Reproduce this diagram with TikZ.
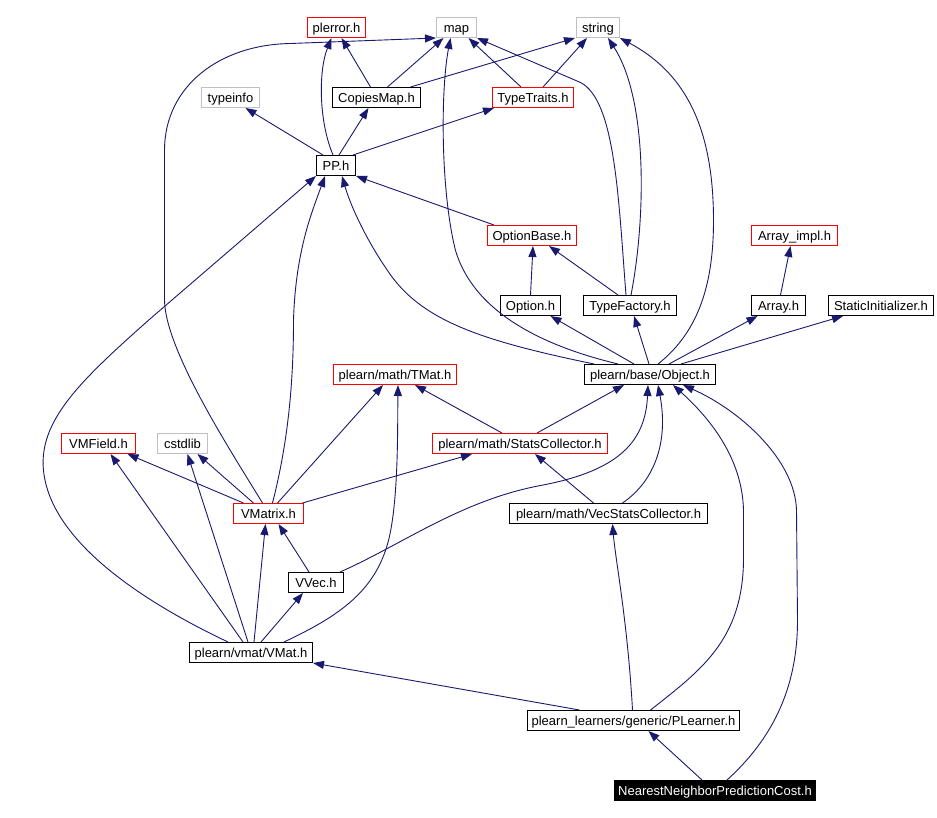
\documentclass[tikz,border=0pt]{standalone}
\usepackage{fontspec}
\setmainfont{Liberation Sans}
\usetikzlibrary{arrows.meta}
\definecolor{EdgeBlue}{RGB}{25,25,112}
\definecolor{FrameRed}{RGB}{255,0,0}
\definecolor{FrameGrey}{RGB}{191,191,191}
\tikzset{
  hbox/.style={draw=black,fill=white,line width=1pt,minimum height=20pt,inner sep=0pt,text height=11pt,text depth=1pt,font=\fontsize{13}{15}\selectfont},
  rbox/.style={hbox,draw=FrameRed},
  gbox/.style={hbox,draw=FrameGrey},
  sbox/.style={hbox,fill=black,text=white},
  dep/.style={-{Triangle[length=11pt,width=8pt]},line width=0.9pt,color=EdgeBlue},
}
\begin{document}
\begin{tikzpicture}[x=1pt,y=-1pt]
      \fill[white] (-0.5,-0.5) rectangle (936.5,816.5);
      \useasboundingbox (-0.5,-0.5) rectangle (936.5,816.5);
      \node[rbox,minimum width=58pt] (plerror) at (336,27) {plerror.h};
      \node[gbox,minimum width=40pt] (map) at (456,27) {map};
      \node[gbox,minimum width=43pt] (string) at (597.5,27) {string};
      \node[gbox,minimum width=58pt] (typeinfo) at (230,97) {typeinfo};
      \node[hbox,minimum width=88pt] (copiesmap) at (376,97) {CopiesMap.h};
      \node[rbox,minimum width=81pt] (typetraits) at (532.5,97) {TypeTraits.h};
      \node[hbox,minimum width=39pt] (pp) at (335.5,165) {PP.h};
      \node[rbox,minimum width=89pt] (optionbase) at (531.5,235) {OptionBase.h};
      \node[rbox,minimum width=86pt] (arrayimpl) at (794,235) {Array\_impl.h};
      \node[hbox,minimum width=60pt] (option) at (530,305) {Option.h};
      \node[hbox,minimum width=93pt] (typefactory) at (629.5,305) {TypeFactory.h};
      \node[hbox,minimum width=54pt] (array) at (778,305) {Array.h};
      \node[hbox,minimum width=105pt] (staticinit) at (880.5,305) {StaticInitializer.h};
      \node[hbox,minimum width=131pt] (object) at (649.5,374) {plearn/base/Object.h};
      \node[rbox,minimum width=123pt] (tmat) at (394.5,374) {plearn/math/TMat.h};
      \node[rbox,minimum width=74pt] (vmfield) at (98,443) {VMField.h};
      \node[gbox,minimum width=50pt] (cstdlib) at (182,443) {cstdlib};
      \node[rbox,minimum width=175pt] (statscoll) at (519.5,443) {plearn/math/StatsCollector.h};
      \node[rbox,minimum width=70pt] (vmatrix) at (268,513) {VMatrix.h};
      \node[hbox,minimum width=198pt] (vecstats) at (608,513) {plearn/math/VecStatsCollector.h};
      \node[hbox,minimum width=55pt] (vvec) at (315.5,582) {VVec.h};
      \node[hbox,minimum width=123pt] (vmat) at (250.5,652) {plearn/vmat/VMat.h};
      \node[hbox,minimum width=212pt] (plearner) at (633,720) {plearn\_learners/generic/PLearner.h};
      \node[sbox,minimum width=201pt] (nn) at (714.5,790) {NearestNeighborPredictionCost.h};
      \draw[dep] ([xshift=-6]copiesmap.north) -- ([xshift=5]plerror.south);
      \draw[dep] ([xshift=11]copiesmap.north) -- ([xshift=-13]map.south);
      \draw[dep] ([xshift=34]copiesmap.north) -- ([xshift=-23]string.south);
      \draw[dep] ([xshift=-12]typetraits.north) -- ([xshift=12]map.south);
      \draw[dep] ([xshift=10]typetraits.north) -- ([xshift=-11]string.south);
      \draw[dep] ([xshift=-13]pp.north) -- ([xshift=15]typeinfo.south);
      \draw[dep] ([xshift=-3]pp.north) .. controls (318,120) and (318,70) .. ([xshift=-5]plerror.south);
      \draw[dep] ([xshift=3]pp.north) -- ([xshift=-8]copiesmap.south);
      \draw[dep] ([xshift=17]pp.north) -- ([xshift=-39]typetraits.south);
      \draw[dep] ([xshift=-38]optionbase.north) -- (pp.south east);
      \draw[dep] ([xshift=-4]typefactory.north) .. controls (618,200) and (615,100) .. (580,82) -- (map.south east);
      \draw[dep] ([xshift=1]typefactory.north) .. controls (645,220) and (648,100) .. ([xshift=10]string.south);
      \draw[dep] ([xshift=8]object.north) .. controls (700,330) and (713,280) .. (713,220) .. controls (713,120) and (680,70) .. (string.south east);
      \draw[dep] ([xshift=-32]object.north) .. controls (520,340) and (470,300) .. (455,250) .. controls (440,190) and (440,90) .. ([xshift=-6]map.south);
      \draw[dep] ([xshift=-56]object.north) .. controls (480,340) and (420,320) .. (387,270) .. controls (365,238) and (350,205) .. ([xshift=6]pp.south);
      \draw[dep] ([xshift=-16]object.north) -- ([xshift=20]option.south);
      \draw[dep] ([xshift=-1]object.north) -- ([xshift=4]typefactory.south);
      \draw[dep] ([xshift=19]object.north) -- ([xshift=-21]array.south);
      \draw[dep] ([xshift=31]object.north) -- ([xshift=-38]staticinit.south);
      \draw[dep] (option.north) -- ([xshift=1]optionbase.south);
      \draw[dep] ([xshift=-12]typefactory.north) -- ([xshift=17]optionbase.south);
      \draw[dep] ([xshift=2]array.north) -- ([xshift=-4]arrayimpl.south);
      \draw[dep] ([xshift=9]vmatrix.north) -- ([xshift=-12]tmat.south);
      \draw[dep] ([xshift=-18]statscoll.north) -- ([xshift=20]tmat.south);
      \draw[dep] ([xshift=33]vmat.north) .. controls (340,615) and (375,590) .. (388,540) .. controls (398,500) and (397,430) .. ([xshift=3]tmat.south);
      \draw[dep] ([xshift=34]vmatrix.north) -- ([xshift=-48]statscoll.south);
      \draw[dep] ([xshift=-15]vecstats.north) -- ([xshift=15]statscoll.south);
      \draw[dep] ([xshift=17]statscoll.north) -- ([xshift=-26]object.south);
      \draw[dep] ([xshift=-25]vmatrix.north) -- ([xshift=29]vmfield.south);
      \draw[dep] ([xshift=-15]vmatrix.north) -- ([xshift=15]cstdlib.south);
      \draw[dep] ([xshift=4]vmatrix.north) .. controls (288,440) and (293,380) .. (293,320) .. controls (295,250) and (312,210) .. ([xshift=-11]pp.south);
      \draw[dep] ([xshift=-6]vmatrix.north) .. controls (230,450) and (165,350) .. (164,300) -- (164,150) .. controls (164,85) and (220,44) .. (290,43) -- (map.south west);
      \draw[dep] ([xshift=-8]vmat.north) -- ([xshift=12]vmfield.south);
      \draw[dep] ([xshift=-3]vmat.north) -- ([xshift=5]cstdlib.south);
      \draw[dep] ([xshift=3]vmat.north) -- ([xshift=-3]vmatrix.south);
      \draw[dep] ([xshift=10]vmat.north) -- ([xshift=-13]vvec.south);
      \draw[dep] ([xshift=-23]vmat.north) .. controls (140,600) and (50,540) .. (43,470) .. controls (38,420) and (80,380) .. (150,318) -- (pp.south west);
      \draw[dep] ([xshift=-7]vvec.north) -- ([xshift=10]vmatrix.south);
      \draw[dep] ([xshift=24]vvec.north) .. controls (400,545) and (460,500) .. (540,485) .. controls (620,470) and (645,440) .. ([xshift=-2]object.south);
      \draw[dep] ([xshift=14]vecstats.north) .. controls (655,480) and (668,440) .. ([xshift=8]object.south);
      \draw[dep] ([xshift=-54]plearner.north) -- (vmat.south east);
      \draw[dep] ([xshift=-1]plearner.north) .. controls (627,620) and (615,560) .. ([xshift=4]vecstats.south);
      \draw[dep] ([xshift=17]plearner.north) .. controls (700,670) and (742,640) .. (743,560) -- (743,510) .. controls (742,460) and (712,420) .. ([xshift=23]object.south);
      \draw[dep] ([xshift=-13]nn.north) -- ([xshift=15]plearner.south);
      \draw[dep] ([xshift=12]nn.north) .. controls (770,740) and (797,690) .. (797,620) -- (796,510) .. controls (795,460) and (740,410) .. ([xshift=33]object.south);
    \end{tikzpicture}
\end{document}
